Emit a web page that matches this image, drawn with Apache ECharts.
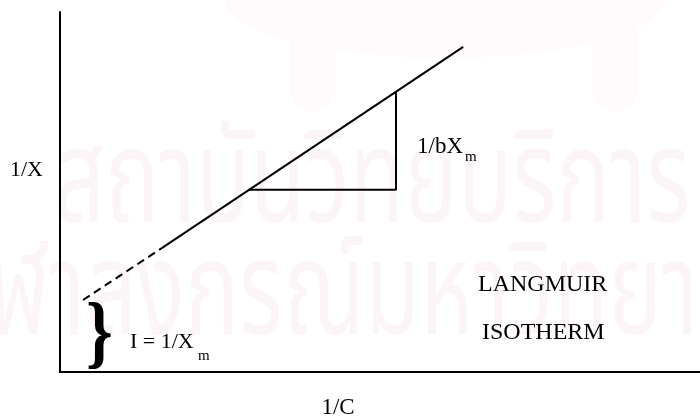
<!DOCTYPE html>
<html>
<head>
<meta charset="utf-8">
<script src="https://cdn.jsdelivr.net/npm/echarts@6/dist/echarts.min.js"></script>
<style>
  html, body { margin: 0; padding: 0; background: #fff; }
  #chart { width: 700px; height: 418px; }
</style>
</head>
<body>
<div id="chart"></div>
<script>
// Langmuir plot: 1/X against 1/C, arbitrary units
const extrapolated = [[0.36, 2.0], [1.59, 3.44]];   // dashed part down toward the intercept
const measured = [[1.59, 3.44], [6.30, 9.03]];      // solid straight-line region
const slopeTriangle = [[2.95, 5.06], [5.25, 5.06], [5.25, 7.78]];
const axisNames = { x: '1/C', y: '1/X' };
const slopeLabel = ['1/bX', 'm'];
const interceptLabel = ['I = 1/X', 'm'];
const titleLines = ['LANGMUIR', 'ISOTHERM'];
const watermarkLines = ['สถาบันวิทยบริการ', 'จุฬาลงกรณ์มหาวิทยาลัย'];

const serif = '"Liberation Serif", "Times New Roman", serif';
const thai = '"Noto Sans Thai", "Noto Sans", sans-serif';
const wmColor = '#fcf5f7';
const emblemColor = '#fffbfc';
const chart = echarts.init(document.getElementById('chart'), null, { renderer: 'canvas' });

function txt(text, x, y, size, align, extra, weight) {
  return Object.assign({
    type: 'text', x: x, y: y, z: 10,
    style: { text: text, fill: '#000', font: (weight || 'normal') + ' ' + size + 'px ' + serif,
             textAlign: align || 'left', textVerticalAlign: 'middle' }
  }, extra || {});
}

chart.setOption({
  animation: false,
  backgroundColor: '#fff',
  grid: { left: 60, right: 0, top: 12, bottom: 46 },
  xAxis: {
    type: 'value', min: 0, max: 10,
    axisLine: { show: true, lineStyle: { color: '#000', width: 2 } },
    axisTick: { show: false }, axisLabel: { show: false }, splitLine: { show: false }
  },
  yAxis: {
    type: 'value', min: 0, max: 10,
    axisLine: { show: true, lineStyle: { color: '#000', width: 2 } },
    axisTick: { show: false }, axisLabel: { show: false }, splitLine: { show: false }
  },
  series: [
    { type: 'line', data: extrapolated, symbol: 'none', z: 5,
      lineStyle: { color: '#000', width: 2, type: [8, 5] } },
    { type: 'line', data: measured, symbol: 'none', z: 5,
      lineStyle: { color: '#000', width: 2 } },
    { type: 'line', data: slopeTriangle, symbol: 'none', z: 5,
      lineStyle: { color: '#000', width: 2 } }
  ],
  graphic: [
    // faint emblem and institutional watermark behind the plot
    { type: 'ellipse', z: -11, shape: { cx: 445, cy: 0, rx: 220, ry: 58 },
      style: { fill: emblemColor } },
    { type: 'rect', z: -11, shape: { x: 290, y: 20, width: 46, height: 92, r: [4, 4, 22, 22] },
      style: { fill: emblemColor } },
    { type: 'rect', z: -11, shape: { x: 592, y: 20, width: 46, height: 92, r: [4, 4, 22, 22] },
      style: { fill: emblemColor } },
    { type: 'text', x: 372, y: 196, z: -10, scaleY: 1.45,
      style: { text: watermarkLines[0], fill: wmColor, font: '90px ' + thai, textAlign: 'center', textVerticalAlign: 'middle' } },
    { type: 'text', x: 372, y: 308, z: -10, scaleY: 1.45,
      style: { text: watermarkLines[1], fill: wmColor, font: '90px ' + thai, textAlign: 'center', textVerticalAlign: 'middle' } },

    txt(axisNames.y, 10, 170, 22),
    txt(axisNames.x, 338, 408, 23, 'center'),
    txt(slopeLabel[0], 417, 147, 23),
    txt(slopeLabel[1], 465, 157, 15),
    txt('}', 86, 337, 80, 'left', { scaleX: 0.85 }, 'bold'),
    txt(interceptLabel[0], 130, 342, 22),
    txt(interceptLabel[1], 198, 356, 15),
    txt(titleLines[0], 478, 285, 24),
    txt(titleLines[1], 482, 333, 24)
  ]
});
</script>
</body>
</html>
